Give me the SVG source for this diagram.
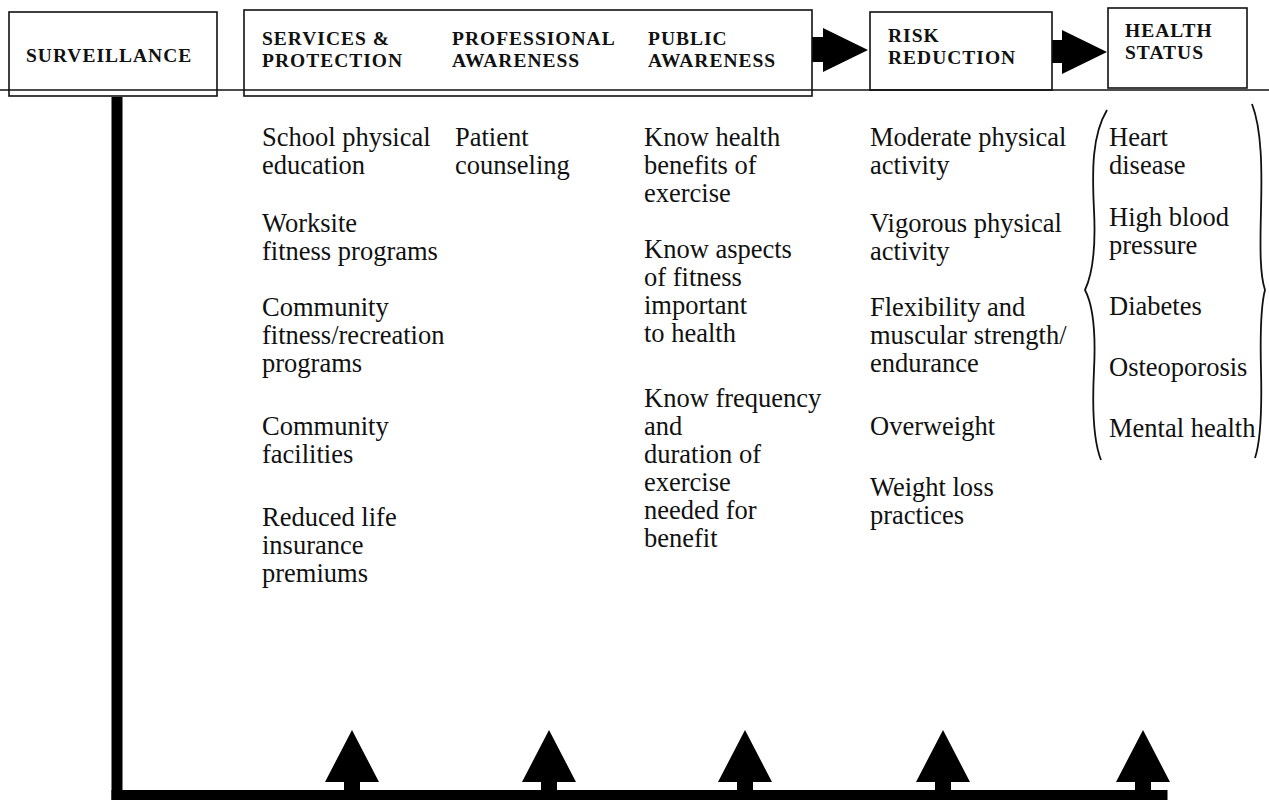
<svg xmlns="http://www.w3.org/2000/svg" width="1269" height="800" viewBox="0 0 1269 800">
<style>
.box{fill:none;stroke:#111;stroke-width:1.6}
.hd{font-family:"Liberation Serif",serif;font-weight:bold;font-size:19.5px;letter-spacing:1px;fill:#111}
.bd{font-family:"Liberation Serif",serif;font-size:26.5px;fill:#111}
.blk{fill:#000;stroke:none}
.brace{fill:none;stroke:#111;stroke-width:1.8}
</style>
<rect width="1269" height="800" fill="#fff"/>
<g id="connectors">
<line x1="0" y1="90" x2="1269" y2="90" stroke="#111" stroke-width="1.5"/>
<rect class="blk" x="111.5" y="97" width="11" height="703"/>
<rect class="blk" x="111.5" y="790" width="1056" height="10"/>
<polygon class="blk" points="812,37 823,37 823,28 868,50 823,72 823,62 812,62"/>
<polygon class="blk" points="1052,40 1062,40 1062,30 1107,52 1062,74 1062,63 1052,63"/>
<polygon class="blk" points="352,730 379,782 360,782 360,792 344,792 344,782 325,782"/>
<polygon class="blk" points="549,730 576,782 557,782 557,792 541,792 541,782 522,782"/>
<polygon class="blk" points="745,730 772,782 753,782 753,792 737,792 737,782 718,782"/>
<polygon class="blk" points="943,730 970,782 951,782 951,792 935,792 935,782 916,782"/>
<polygon class="blk" points="1143,730 1170,782 1151,782 1151,792 1135,792 1135,782 1116,782"/>
</g>
<g id="surveillance">
<rect class="box" x="9" y="12" width="208" height="84"/>
<text class="hd" x="26" y="62">SURVEILLANCE</text>
</g>
<g id="awareness-box">
<rect class="box" x="244" y="10" width="568" height="86"/>
</g>
<g id="services">
<text class="hd" x="262" y="45">SERVICES &amp;</text>
<text class="hd" x="262" y="67">PROTECTION</text>
<text class="bd" x="262" y="146">School physical</text>
<text class="bd" x="262" y="174">education</text>
<text class="bd" x="262" y="232">Worksite</text>
<text class="bd" x="262" y="260">fitness programs</text>
<text class="bd" x="262" y="316">Community</text>
<text class="bd" x="262" y="344">fitness/recreation</text>
<text class="bd" x="262" y="372">programs</text>
<text class="bd" x="262" y="435">Community</text>
<text class="bd" x="262" y="463">facilities</text>
<text class="bd" x="262" y="526">Reduced life</text>
<text class="bd" x="262" y="554">insurance</text>
<text class="bd" x="262" y="582">premiums</text>
</g>
<g id="professional">
<text class="hd" x="452" y="45">PROFESSIONAL</text>
<text class="hd" x="452" y="67">AWARENESS</text>
<text class="bd" x="455" y="146">Patient</text>
<text class="bd" x="455" y="174">counseling</text>
</g>
<g id="public">
<text class="hd" x="648" y="45">PUBLIC</text>
<text class="hd" x="648" y="67">AWARENESS</text>
<text class="bd" x="644" y="146">Know health</text>
<text class="bd" x="644" y="174">benefits of</text>
<text class="bd" x="644" y="202">exercise</text>
<text class="bd" x="644" y="258">Know aspects</text>
<text class="bd" x="644" y="286">of fitness</text>
<text class="bd" x="644" y="314">important</text>
<text class="bd" x="644" y="342">to health</text>
<text class="bd" x="644" y="407">Know frequency</text>
<text class="bd" x="644" y="435">and</text>
<text class="bd" x="644" y="463">duration of</text>
<text class="bd" x="644" y="491">exercise</text>
<text class="bd" x="644" y="519">needed for</text>
<text class="bd" x="644" y="547">benefit</text>
</g>
<g id="risk">
<rect class="box" x="870" y="12" width="182" height="78"/>
<text class="hd" x="888" y="42">RISK</text>
<text class="hd" x="888" y="64">REDUCTION</text>
<text class="bd" x="870" y="146">Moderate physical</text>
<text class="bd" x="870" y="174">activity</text>
<text class="bd" x="870" y="232">Vigorous physical</text>
<text class="bd" x="870" y="260">activity</text>
<text class="bd" x="870" y="316">Flexibility and</text>
<text class="bd" x="870" y="344">muscular strength/</text>
<text class="bd" x="870" y="372">endurance</text>
<text class="bd" x="870" y="435">Overweight</text>
<text class="bd" x="870" y="496">Weight loss</text>
<text class="bd" x="870" y="524">practices</text>
</g>
<g id="health">
<rect class="box" x="1108" y="8" width="139" height="80"/>
<text class="hd" x="1125" y="37">HEALTH</text>
<text class="hd" x="1125" y="59">STATUS</text>
<path class="brace" d="M1107,110 C1092,135 1092,170 1094,210 C1096,250 1092,275 1085,290 C1093,305 1096,330 1094,370 C1092,410 1093,440 1101,460"/>
<path class="brace" d="M1252,104 C1262,130 1262,170 1261,210 C1260,250 1260,275 1265,290 C1261,305 1260,330 1261,370 C1262,410 1261,440 1255,458"/>
<text class="bd" x="1109" y="146">Heart</text>
<text class="bd" x="1109" y="174">disease</text>
<text class="bd" x="1109" y="226">High blood</text>
<text class="bd" x="1109" y="254">pressure</text>
<text class="bd" x="1109" y="315">Diabetes</text>
<text class="bd" x="1109" y="376">Osteoporosis</text>
<text class="bd" x="1109" y="437">Mental health</text>
</g>
</svg>
